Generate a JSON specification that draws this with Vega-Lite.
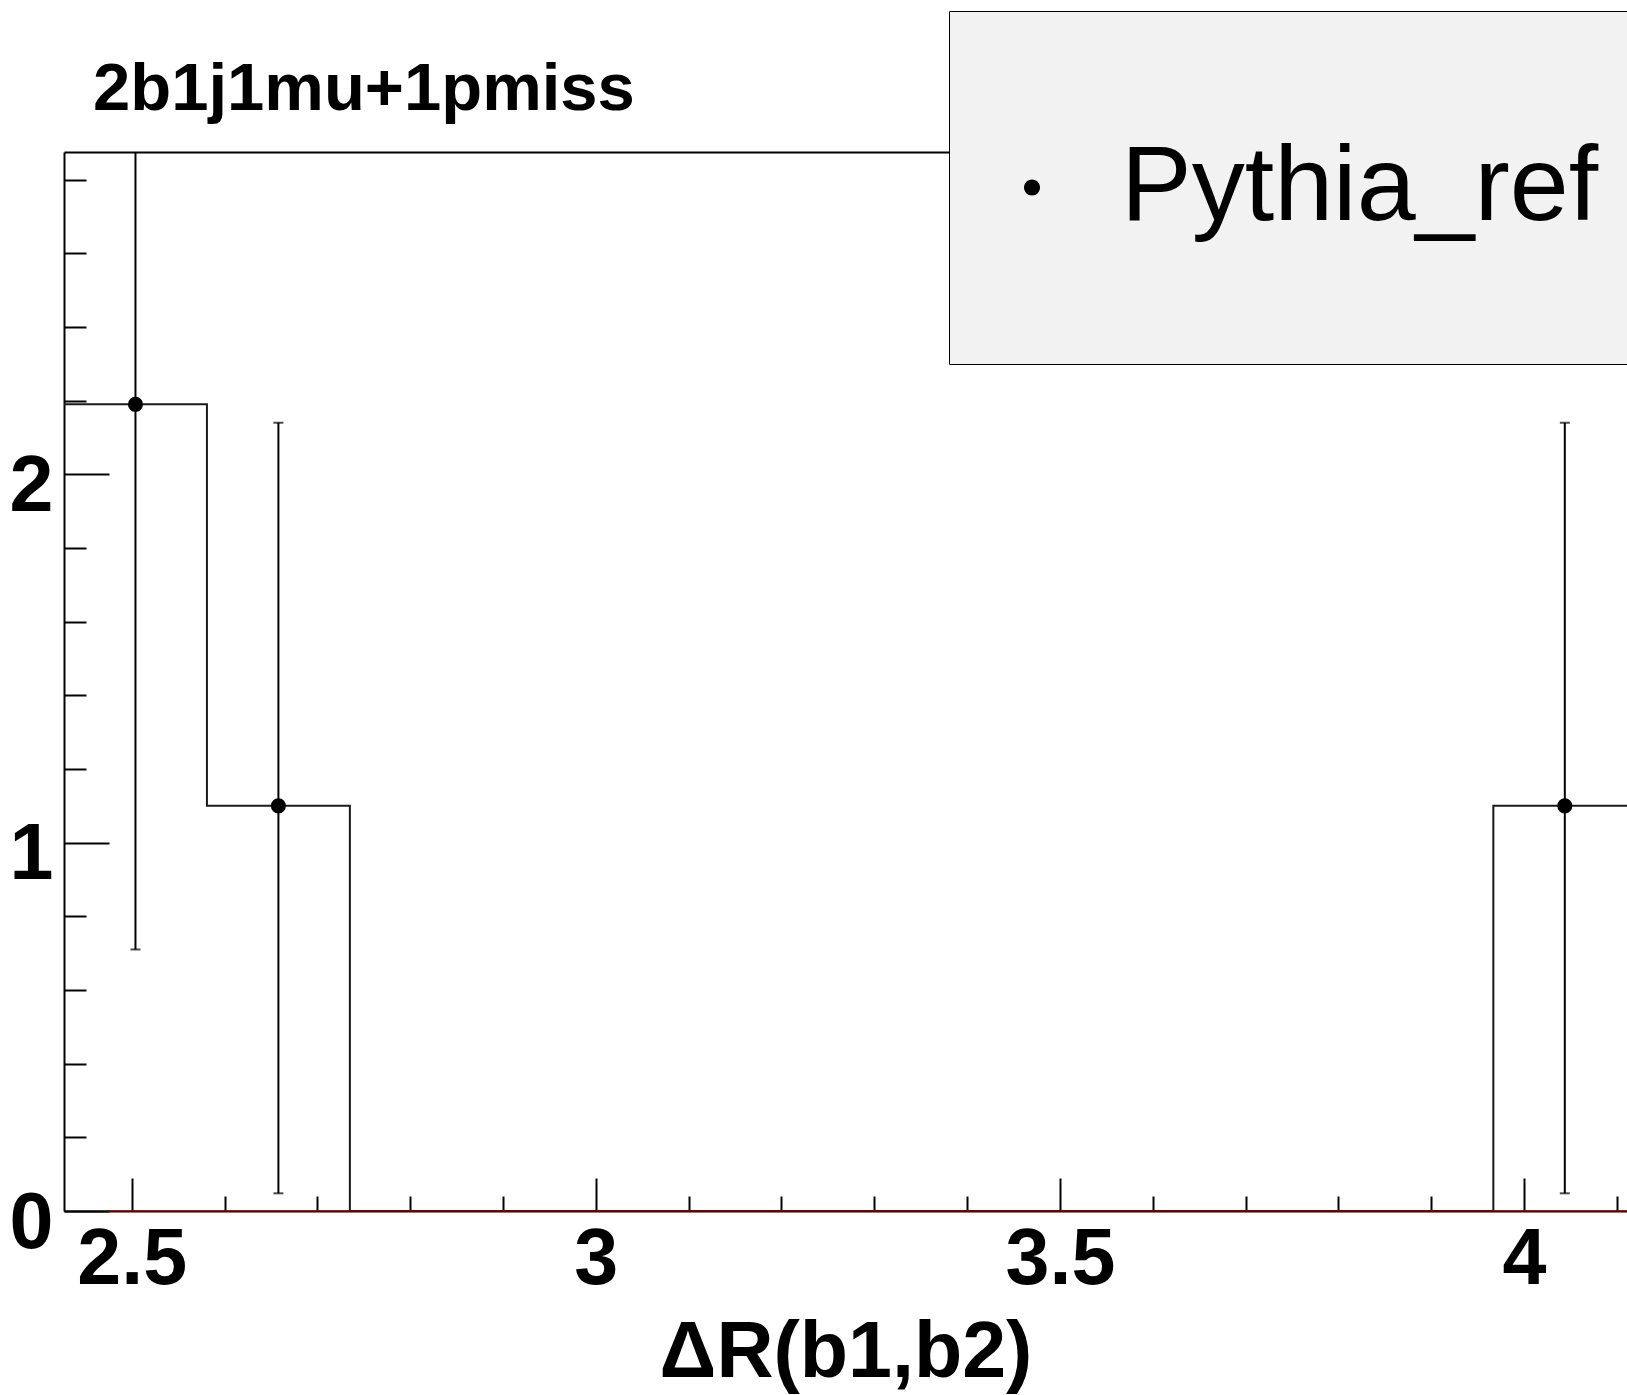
{
  "$schema": "https://vega.github.io/schema/vega-lite/v6.json",
  "autosize": "none",
  "width": 1563,
  "height": 1059,
  "padding": {"left": 64, "top": 152, "right": 0, "bottom": 184},
  "background": "white",
  "title": {
    "text": "2b1j1mu+1pmiss",
    "anchor": "start",
    "frame": "group",
    "font": "Liberation Sans",
    "fontSize": 67,
    "fontWeight": "bold",
    "color": "black",
    "baseline": "alphabetic",
    "offset": 41,
    "dx": 29,
    "dy": 207
  },
  "datasets": {
    "outline": [
      {"x": 2.427, "y": 2.19},
      {"x": 2.581, "y": 1.1},
      {"x": 2.735, "y": 0},
      {"x": 3.967, "y": 1.1},
      {"x": 4.121, "y": 1.1}
    ],
    "bins": [
      {"sample": "Pythia_ref", "c": 2.504, "y": 2.19, "ylo": 0.71, "yhi": 3.67},
      {"sample": "Pythia_ref", "c": 2.658, "y": 1.1, "ylo": 0.048, "yhi": 2.14},
      {"sample": "Pythia_ref", "c": 4.044, "y": 1.1, "ylo": 0.048, "yhi": 2.14}
    ],
    "zero": [
      {"x": 2.474, "x2": 4.2, "y": 0}
    ]
  },
  "resolve": {"axis": {"x": "independent", "y": "independent"}},
  "layer": [
    {
      "data": {"name": "outline"},
      "mark": {"type": "line", "interpolate": "step-after", "color": "#1a1a1a", "strokeWidth": 2, "clip": true},
      "encoding": {
        "x": {"field": "x", "type": "quantitative", "scale": {"domain": [2.427, 4.111], "zero": false, "nice": false},
              "axis": {
                "orient": "bottom",
                "zindex": 0,
                "values": [2.5, 3, 3.5, 4],
                "format": "~g",
                "tickSize": -33,
                "tickColor": "black",
                "tickWidth": 2,
                "domainColor": "black",
                "domainWidth": 2,
                "grid": false,
                "labelFont": "Liberation Sans",
                "labelFontWeight": "bold",
                "labelFontSize": 79,
                "labelColor": "black",
                "labelFlush": false,
                "labelOverlap": false,
                "labelPadding": 43,
                "title": "ΔR(b1,b2)",
                "titleFont": "Liberation Sans",
                "titleFontWeight": "bold",
                "titleFontSize": 79,
                "titleColor": "black",
                "titlePadding": 15
              }},
        "y": {"field": "y", "type": "quantitative", "scale": {"domain": [0, 2.875], "nice": false, "zero": false},
              "axis": {
                "orient": "left",
                "values": [0, 1, 2],
                "format": "~g",
                "tickSize": -45,
                "tickColor": "black",
                "tickWidth": 2,
                "domainColor": "black",
                "domainWidth": 2,
                "grid": false,
                "labelFont": "Liberation Sans",
                "labelFontWeight": "bold",
                "labelFontSize": 79,
                "labelColor": "black",
                "labelFlush": false,
                "labelOverlap": false,
                "labelPadding": 56,
                "labelOffset": 12,
                "title": null
              }}
      }
    },
    {
      "data": {"name": "zero"},
      "mark": {"type": "rule", "color": "#8b0000", "strokeWidth": 1.5, "clip": false},
      "encoding": {
        "x": {"field": "x", "type": "quantitative",
              "axis": {"orient": "top", "labels": false, "ticks": false, "domain": true, "grid": false, "title": null, "domainColor": "black", "domainWidth": 2}},
        "x2": {"field": "x2"},
        "y": {"field": "y", "type": "quantitative", "axis": null}
      }
    },
    {
      "data": {"name": "bins"},
      "mark": {"type": "rule", "color": "#000000", "strokeWidth": 2, "clip": true},
      "encoding": {
        "x": {"field": "c", "type": "quantitative",
              "axis": {
                "orient": "bottom",
                "values": [2.6, 2.7, 2.8, 2.9, 3.1, 3.2, 3.3, 3.4, 3.6, 3.7, 3.8, 3.9, 4.1],
                "tickSize": -15,
                "tickColor": "black",
                "tickWidth": 2,
                "domain": false,
                "labels": false,
                "grid": false,
                "title": null
              }},
        "y": {"field": "ylo", "type": "quantitative",
              "axis": {
                "orient": "left",
                "values": [0.2, 0.4, 0.6, 0.8, 1.2, 1.4, 1.6, 1.8, 2.2, 2.4, 2.6, 2.8],
                "tickSize": -22,
                "tickColor": "black",
                "tickWidth": 2,
                "domain": false,
                "labels": false,
                "grid": false,
                "title": null
              }},
        "y2": {"field": "yhi"}
      }
    },
    {
      "data": {"name": "bins"},
      "mark": {"type": "tick", "orient": "horizontal", "color": "#000000", "size": 10, "thickness": 2, "clip": true},
      "encoding": {
        "x": {"field": "c", "type": "quantitative", "axis": null},
        "y": {"field": "ylo", "type": "quantitative", "axis": null}
      }
    },
    {
      "data": {"name": "bins"},
      "mark": {"type": "tick", "orient": "horizontal", "color": "#000000", "size": 10, "thickness": 2, "clip": true},
      "encoding": {
        "x": {"field": "c", "type": "quantitative", "axis": null},
        "y": {"field": "yhi", "type": "quantitative", "axis": null}
      }
    },
    {
      "data": {"name": "bins"},
      "mark": {"type": "point", "filled": true, "shape": "circle", "size": 230, "opacity": 1, "clip": true},
      "encoding": {
        "x": {"field": "c", "type": "quantitative", "axis": null},
        "y": {"field": "y", "type": "quantitative", "axis": null},
        "color": {
          "field": "sample", "type": "nominal",
          "scale": {"range": ["#000000"]},
          "legend": {
            "orient": "none",
            "legendX": 885,
            "legendY": -141,
            "title": null,
            "padding": 75,
            "fillColor": "#f2f2f2",
            "strokeColor": "#000000",
            "cornerRadius": 0,
            "symbolType": "M0,-1M0,1M-0.079,0A0.079,0.079,0,1,0,0.079,0A0.079,0.079,0,1,0,-0.079,0Z",
            "symbolSize": 41209,
            "symbolFillColor": "#000000",
            "symbolStrokeColor": "#000000",
            "symbolStrokeWidth": 0,
            "symbolOffset": -93.5,
            "labelFont": "Liberation Sans",
            "labelFontSize": 106,
            "labelFontWeight": "normal",
            "labelColor": "#000000",
            "labelOffset": -12.5,
            "labelLimit": 0
          }
        }
      }
    }
  ],
  "config": {
    "view": {"stroke": null},
    "axis": {"labelFont": "Liberation Sans", "titleFont": "Liberation Sans"}
  }
}
